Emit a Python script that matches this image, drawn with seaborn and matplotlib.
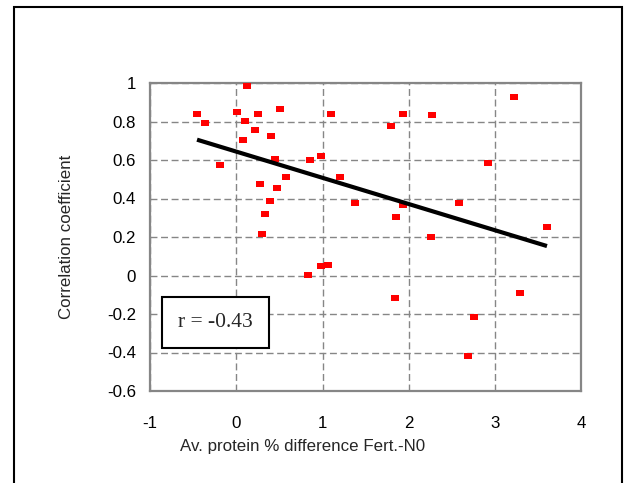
import numpy as np
import pandas as pd
import matplotlib
matplotlib.use("Agg")
import matplotlib.pyplot as plt
import seaborn as sns
from matplotlib.patches import Rectangle

# Data
protein_diff = [-0.455, -0.367, 0.124, 0.012, 0.097, 0.255, 0.51, 0.212, 0.402, 0.081,
                -0.189, 0.444, 0.857, 0.977, 1.10, 0.576, 1.197, 0.278, 0.467, 0.394,
                1.379, 0.336, 0.301, 0.83, 0.977, 1.066,
                1.788, 1.935, 2.267, 3.213, 2.92, 1.846, 1.935, 2.58, 2.256, 3.60,
                1.842, 3.29, 2.758, 2.68]
corr_coef = [0.841, 0.793, 0.986, 0.850, 0.803, 0.838, 0.866, 0.755, 0.725, 0.703,
             0.575, 0.603, 0.600, 0.621, 0.838, 0.510, 0.510, 0.475, 0.457, 0.386,
             0.376, 0.318, 0.214, 0.002, 0.047, 0.052,
             0.776, 0.838, 0.835, 0.929, 0.586, 0.303, 0.365, 0.377, 0.202, 0.250,
             -0.115, -0.090, -0.214, -0.417]
r_label = "r = -0.43"
x_ticks = [-1, 0, 1, 2, 3, 4]
y_ticks = [-0.6, -0.4, -0.2, 0, 0.2, 0.4, 0.6, 0.8, 1]
y_tick_labels = ["-0.6", "-0.4", "-0.2", "0", "0.2", "0.4", "0.6", "0.8", "1"]
x_label = "Av. protein % difference Fert.-N0"
y_label = "Correlation coefficient"

df = pd.DataFrame({"x": protein_diff, "y": corr_coef})

sns.set_style("white")
plt.rcParams["font.family"] = ["Liberation Sans", "DejaVu Sans"]

fig = plt.figure(figsize=(6.29, 4.83), dpi=100)
ax = fig.add_axes([150/629, 1-391/483, (581.5-150)/629, (391-83)/483])

gray = "#868686"
rect_marker = [(-1.3, -1), (1.3, -1), (1.3, 1), (-1.3, 1), (-1.3, -1)]

sns.regplot(data=df, x="x", y="y", ax=ax, ci=None, truncate=True, marker=rect_marker,
            scatter_kws=dict(s=28, color="#ff0000", linewidths=0, zorder=3, alpha=1),
            line_kws=dict(color="black", lw=3, zorder=4, solid_capstyle="butt"))

ax.set_xlim(-1, 4)
ax.set_ylim(-0.6, 1)
ax.set_xticks(x_ticks)
ax.set_xticklabels([str(v) for v in x_ticks])
ax.set_yticks(y_ticks)
ax.set_yticklabels(y_tick_labels)
ax.grid(True, color=gray, lw=1.0, linestyle=(0, (5, 2.6)))
ax.set_axisbelow(True)
for s in ax.spines.values():
    s.set_color(gray)
    s.set_linewidth(1.6)
ax.tick_params(axis="both", colors=gray, length=4, width=1, labelcolor="black",
               labelsize=12.2, direction="out")
ax.tick_params(axis="x", pad=14)
ax.tick_params(axis="y", pad=6)
ax.set_xlabel(x_label, fontsize=12.2, labelpad=6)
ax.xaxis.set_label_coords(0.353, -0.155)
ax.set_ylabel(y_label, fontsize=12.2, labelpad=24)

ax.text(-0.246, -0.244, r_label, family=["Liberation Serif", "DejaVu Serif"], fontsize=15.5,
        ha="center", va="center",
        bbox=dict(boxstyle="square,pad=0.75", fc="white", ec="black", lw=1.5))

fig.patches.append(Rectangle((14/629, -0.05), (622-14)/629, 1.05-7/483,
                             transform=fig.transFigure, fill=False, ec="black", lw=1.5,
                             clip_on=False))

fig.savefig("out.png", dpi=100)
